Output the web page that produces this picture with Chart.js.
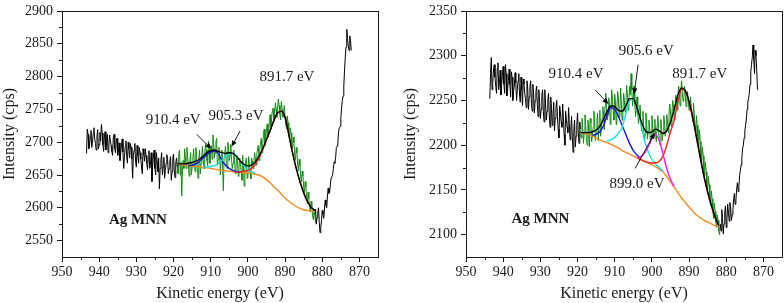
<!DOCTYPE html>
<html><head><meta charset="utf-8">
<script src="https://cdn.jsdelivr.net/npm/chart.js@4.4.0/dist/chart.umd.min.js"></script>
<style>
html,body{margin:0;padding:0;background:#fff;width:784px;height:303px;overflow:hidden}
canvas{position:absolute;top:0}
#c1{left:0}#c2{left:392px}
</style></head><body>
<canvas id="c1" width="392" height="303"></canvas>
<canvas id="c2" width="392" height="303"></canvas>
<script>
// ---------- axis ticks ----------
const xTicks = [950,940,930,920,910,900,890,880,870];
const xMinorTicks = [945,935,925,915,905,895,885,875];
const leftYTicks = [2550,2600,2650,2700,2750,2800,2850,2900];
const leftYMinor = [2575,2625,2675,2725,2775,2825,2875];
const rightYTicks = [2100,2150,2200,2250,2300,2350];
const rightYMinor = [2125,2175,2225,2275,2325];

// ---------- raw spectra (sampled every 0.2 eV, descending energy) ----------
const rawStep = 0.2;
const leftRawBlackAStart = 943.4;
const leftRawBlackA = [2683,2720,2712,2690,2695,2708,2718,2692,2700,2714,
 2722,2705,2698,2688,2710,2719,2690,2696,2715,2702,
 2727,2714,2696,2686,2708,2716,2688,2700,2712,2684,
 2694,2711,2703,2695,2686,2680,2707,2712,2690,2684,
 2701,2706,2680,2688,2699,2672,2684,2696,2705,2685,
 2660,2678,2693,2702,2679,2668,2700,2690,2676,2698,
 2692,2674,2645,2680,2688,2698,2670,2662,2695,2680,
 2668,2692,2684,2674,2662,2652,2690,2682,2671,2690,
 2680,2668,2658,2676,2687,2660,2666,2684,2640,2664,
 2679,2688,2660,2650,2684,2670,2655,2676,2629,2660,
 2672,2684,2650,2662,2677,2645,2657,2668,2681,2674,
 2652,2660,2670,2678,2642,2655,2675,2682,2656,2646,
 2668,2676,2663];
const leftRawGreenStart = 919.0;
const leftRawGreen = [2665,2652,2680,2688,2650,2670,2618,2655,2672,2660,
 2690,2676,2660,2692,2678,2664,2648,2670,2684,2650,
 2662,2674,2690,2668,2655,2692,2680,2660,2645,2672,
 2688,2652,2667,2680,2694,2674,2660,2682,2698,2688,
 2672,2664,2702,2690,2668,2680,2695,2674,2711,2698,
 2676,2684,2700,2706,2665,2674,2692,2684,2650,2672,
 2688,2665,2626,2676,2684,2694,2668,2660,2700,2690,
 2672,2680,2696,2674,2660,2668,2688,2676,2652,2664,
 2680,2672,2648,2662,2676,2668,2655,2642,2680,2664,
 2633,2658,2670,2676,2645,2650,2678,2668,2652,2644,
 2676,2672,2660,2668,2684,2676,2665,2682,2690,2695,
 2672,2688,2700,2706,2684,2698,2712,2720,2695,2704,
 2718,2728,2708,2716,2735,2742,2720,2738,2748,2752,
 2732,2744,2760,2750,2738,2752,2766,2756,2742,2734,
 2762,2750,2738,2744,2756,2738,2728,2720,2740,2730,
 2712,2704,2722,2714,2698,2690,2708,2700,2680,2672,
 2692,2684,2665,2656,2674,2664,2648,2640,2656,2648,
 2632,2622,2640,2632,2616,2606,2624,2614,2600,2594,
 2610,2602,2588,2582,2598,2590,2578];
const leftRawBlackBStart = 881.8;
const leftRawBlackB = [2598,2575,2585,2594,2600,2578,2562,2570,2580,2596,
 2590,2584,2598,2612,2604,2600,2618,2630,2622,2624,
 2636,2646,2648,2650,2660,2670,2668,2676,2692,2694,
 2700,2716,2722,2724,2736,2752,2764,2770,2786,2810,
 2830,2845,2872,2858,2846,2840,2862,2855,2840];

const rightRawBlackAStart = 943.6;
const rightRawBlackA = [2252,2280,2298,2262,2270,2284,2290,2276,2266,2258,
 2286,2292,2262,2270,2284,2256,2268,2278,2288,2268,
 2258,2290,2280,2255,2263,2272,2285,2268,2254,2282,
 2276,2250,2260,2266,2281,2270,2250,2262,2272,2280,
 2256,2248,2276,2262,2244,2274,2268,2258,2252,2242,
 2272,2264,2240,2254,2265,2272,2247,2238,2268,2256,
 2236,2250,2260,2266,2244,2232,2262,2248,2230,2240,
 2256,2262,2238,2226,2262,2246,2228,2238,2250,2258,
 2234,2220,2254,2240,2222,2234,2248,2216,2230,2242,
 2250,2232,2218,2208,2244,2236,2226,2220,2246,2230,
 2212,2200,2238,2228,2220,2214,2242,2224,2206,2218,
 2232,2208,2192,2216,2228,2198,2210,2222,2236,2214,
 2202,2226,2218];
const rightRawGreenStart = 919.2;
const rightRawGreen = [2216,2208,2230,2220,2202,2214,2234,2222,2206,2200,
 2228,2216,2198,2230,2225,2204,2211,2220,2238,2226,
 2205,2214,2228,2236,2205,2222,2239,2210,2218,2230,
 2243,2236,2217,2244,2258,2240,2228,2234,2253,2246,
 2223,2236,2262,2250,2238,2228,2257,2248,2223,2242,
 2260,2252,2231,2240,2264,2246,2228,2236,2258,2250,
 2237,2246,2267,2258,2239,2248,2266,2256,2280,2262,
 2244,2252,2266,2246,2232,2240,2254,2236,2224,2230,
 2245,2228,2216,2224,2238,2218,2204,2212,2236,2224,
 2207,2216,2228,2220,2202,2208,2233,2222,2210,2216,
 2229,2212,2204,2222,2233,2216,2206,2200,2229,2220,
 2205,2214,2233,2226,2210,2218,2234,2226,2214,2232,
 2246,2238,2221,2236,2250,2244,2228,2240,2256,2252,
 2239,2256,2266,2258,2244,2262,2272,2258,2249,2254,
 2266,2256,2243,2250,2260,2248,2239,2244,2254,2242,
 2233,2226,2247,2236,2222,2214,2233,2222,2206,2196,
 2217,2204,2187,2180,2198,2188,2172,2166,2181,2170,
 2154,2148,2165,2156,2143,2132,2149,2140,2126,2118,
 2135,2126,2114,2108,2122,2116,2104,2100,2110];
const rightRawBlackBStart = 881.6;
const rightRawBlackB = [2112,2104,2128,2118,2101,2112,2126,2132,2108,2118,
 2134,2124,2115,2136,2130,2116,2122,2128,2140,2146,
 2134,2138,2150,2158,2148,2154,2166,2172,2178,2186,
 2196,2200,2208,2216,2222,2228,2240,2248,2252,2258,
 2268,2282,2290,2298,2312,2296,2280,2306,2300,2284,
 2262];

// ---------- fitted curves ----------
const fitEnergies = [919,918,917,916,915,914,913,912,911,910,909,908,907,906,905,904,903,902,901,900,
 899,898,897,896,895,894,893,892,891,890,889,888,887,886,885,884,883,882];
const leftEnvelope = [2667,2667,2667,2668,2669,2671,2674,2679,2684,2687,2688,2686,2684,2683,2684,2683,2678,2671,2666,2664,
 2665,2670,2679,2690,2704,2718,2733,2745,2747,2738,2712,2684,2660,2640,2623,2610,2601,2596];
const leftBackground = [2667,2666,2665,2664,2664,2663,2662,2661,2661,2660,2659,2658,2657,2656,2656,2655,2654,2654,2653,2653,
 2652,2651,2650,2647,2643,2638,2632,2627,2621,2615,2610,2606,2602,2599,2597,2596,2595,2594];
const leftBlueE = [916,915,914,913,912,911,910,909,908,907,906,905,904,903,902];
const leftBlue = [2664,2665,2667,2671,2676,2681,2685,2686,2683,2672,2665,2660,2657,2655,2654];
const leftCyanE = [912,911,910,909,908,907,906,905,904,903,902,901,900,899,898];
const leftCyan = [2662,2662,2663,2664,2667,2672,2678,2682,2682,2678,2671,2664,2658,2655,2652];
const leftRedE = [903,902,901,900,899,898,897,896,895,894,893,892,891,890,889,888,887,886,885,884,883,882];
const leftRed = [2655,2655,2656,2657,2660,2666,2676,2689,2704,2718,2733,2745,2747,2738,2712,2684,2660,2640,2623,2610,2601,2596];

const rightEnvelope = [2214,2214,2214,2215,2217,2221,2229,2238,2244,2243,2239,2238,2244,2252,2252,2242,2228,2218,2214,2215,
 2218,2216,2213,2216,2226,2240,2256,2264,2261,2249,2231,2209,2187,2166,2148,2133,2120,2110];
const rightBackground = [2214,2213,2212,2210,2208,2206,2204,2203,2201,2199,2197,2194,2192,2190,2188,2186,2184,2182,2180,2178,
 2176,2173,2170,2165,2159,2153,2147,2141,2136,2131,2126,2122,2119,2116,2114,2112,2110,2109];
const rightBlueE = [916,915,914,913,912,911,910,909,908,907,906,905,904,903];
const rightBlue = [2211,2212,2215,2222,2234,2242,2240,2232,2222,2212,2202,2194,2189,2185];
const rightCyanE = [912,911,910,909,908,907,906,905,904,903,902,901,900,899,898,897];
const rightCyan = [2205,2206,2209,2213,2220,2235,2250,2252,2243,2226,2206,2193,2184,2179,2175,2171];
const rightMagentaE = [904,903,902,901,900,899,898,897,896,895,894];
const rightMagenta = [2186,2187,2191,2198,2207,2212,2205,2190,2174,2162,2154];
const rightRedE = [904,903,902,901,900,899,898,897,896,895,894,893,892,891,890,889,888,887,886,885,884,883,882];
const rightRed = [2186,2184,2182,2181,2180,2180,2182,2188,2200,2215,2228,2248,2263,2260,2248,2230,2208,2186,2165,2147,2132,2119,2110];

// ---------- annotations (energy, intensity anchors) ----------
const leftLabels = [
  {text:'891.7 eV', e:889.5, v:2800},
  {text:'910.4 eV', e:920.1, v:2733},
  {text:'905.3 eV', e:903.2, v:2740},
  {text:'Ag MNN', e:929.6, v:2581, bold:true}
];
const leftArrows = [
  {e1:913.8, v1:2712, e2:909.8, v2:2690},
  {e1:902.1, v1:2717, e2:904.4, v2:2693}
];
const rightLabels = [
  {text:'910.4 eV', e:920.4, v:2279},
  {text:'905.6 eV', e:901.5, v:2305},
  {text:'891.7 eV', e:887.1, v:2279},
  {text:'899.0 eV', e:904.0, v:2156},
  {text:'Ag MNN', e:930.0, v:2117, bold:true}
];
const rightArrows = [
  {e1:915.3, v1:2262, e2:911.7, v2:2246},
  {e1:903.7, v1:2290, e2:904.8, v2:2257},
  {e1:904.5, v1:2174, e2:899.2, v2:2214}
];

// ---------- helpers ----------
const FONT = "'Liberation Serif','Times New Roman',serif";
const INK = '#1a1a1a';
function rawPts(start, vals){ return vals.map((v,i)=>({x:+(start - i*rawStep).toFixed(2), y:v})); }
function pts(es, vals){ return es.map((e,i)=>({x:e, y:vals[i]})); }
function raw(data, color){ return {data, borderColor:color, borderWidth:1, pointRadius:0, tension:0}; }
function fit(data, color, w){ return {data, borderColor:color, borderWidth:w||1.4, pointRadius:0, cubicInterpolationMode:'monotone'}; }

const decoPlugin = {
  id:'deco',
  afterDraw(chart, args, o){
    const {ctx, chartArea:a, scales:{x, y}} = chart;
    ctx.save();
    ctx.strokeStyle = INK; ctx.lineWidth = 1;
    ctx.strokeRect(a.left + 0.5, a.top + 0.5, a.right - a.left, a.bottom - a.top);
    ctx.beginPath();
    o.xMinor.forEach(v=>{ const px = Math.round(x.getPixelForValue(v)) + 0.5; ctx.moveTo(px, a.bottom); ctx.lineTo(px, a.bottom + 3); });
    o.yMinor.forEach(v=>{ const py = Math.round(y.getPixelForValue(v)) + 0.5; ctx.moveTo(a.left, py); ctx.lineTo(a.left - 3, py); });
    ctx.stroke();
    ctx.fillStyle = INK; ctx.textAlign = 'center'; ctx.textBaseline = 'middle';
    o.labels.forEach(l=>{
      ctx.font = (l.bold ? 'bold ' : '') + '15px ' + FONT;
      ctx.fillText(l.text, x.getPixelForValue(l.e), y.getPixelForValue(l.v));
    });
    ctx.strokeStyle = '#000'; ctx.fillStyle = '#000'; ctx.lineWidth = 0.9;
    o.arrows.forEach(ar=>{
      const x1 = x.getPixelForValue(ar.e1), y1 = y.getPixelForValue(ar.v1);
      const x2 = x.getPixelForValue(ar.e2), y2 = y.getPixelForValue(ar.v2);
      const ang = Math.atan2(y2 - y1, x2 - x1), L = 6, W = 2.6;
      const bx = x2 - L*Math.cos(ang), by = y2 - L*Math.sin(ang);
      ctx.beginPath(); ctx.moveTo(x1, y1); ctx.lineTo(bx, by); ctx.stroke();
      ctx.beginPath(); ctx.moveTo(x2, y2);
      ctx.lineTo(bx + W*Math.sin(ang), by - W*Math.cos(ang));
      ctx.lineTo(bx - W*Math.sin(ang), by + W*Math.cos(ang));
      ctx.closePath(); ctx.fill();
    });
    ctx.restore();
  }
};

function makeChart(id, p){
  return new Chart(document.getElementById(id), {
    type:'line',
    data:{ datasets:p.datasets },
    plugins:[decoPlugin],
    options:{
      responsive:false, animation:false, devicePixelRatio:1,
      layout:{ padding:{ left:p.padLeft, right:p.padRight, top:7, bottom:0 } },
      parsing:false, normalized:true,
      plugins:{ legend:{display:false}, tooltip:{enabled:false},
        deco:{ xMinor:xMinorTicks, yMinor:p.yMinor, labels:p.labels, arrows:p.arrows } },
      scales:{
        x:{ type:'linear', reverse:true, min:865, max:950,
          afterBuildTicks:s=>{ s.ticks = xTicks.map(v=>({value:v})); },
          afterFit:s=>{ s.height = 46; },
          grid:{ drawOnChartArea:false, drawTicks:true, tickLength:5, tickColor:INK, color:INK },
          border:{ display:false },
          ticks:{ font:{family:FONT, size:14, lineHeight:1.1}, color:INK, padding:3, maxRotation:0, autoSkip:false, callback:v=>String(v) },
          title:{ display:true, text:'Kinetic energy (eV)', font:{family:FONT, size:16}, color:INK, padding:0 } },
        y:{ type:'linear', min:p.yMin, max:p.yMax,
          afterBuildTicks:s=>{ s.ticks = p.yTicks.map(v=>({value:v})); },
          afterFit:s=>{ s.width = p.yWidth; },
          grid:{ drawOnChartArea:false, drawTicks:true, tickLength:5, tickColor:INK, color:INK },
          border:{ display:false },
          ticks:{ font:{family:FONT, size:14, lineHeight:1}, color:INK, padding:4, autoSkip:false, callback:v=>String(v) },
          title:{ display:true, text:'Intensity (cps)', font:{family:FONT, size:16}, color:INK, padding:0 } }
      }
    }
  });
}

const GREEN = '#138a13', ORANGE = '#f08c1e', BLUE = '#1414d2', CYAN = '#12e0e6', RED = '#e8261c', MAGENTA = '#f01ef0';

makeChart('c1', {
  padLeft:0, padRight:14, yWidth:62, yMin:2525, yMax:2900,
  yTicks:leftYTicks, yMinor:leftYMinor, labels:leftLabels, arrows:leftArrows,
  datasets:[
    fit(pts(fitEnergies, leftEnvelope), '#000', 1.4),
    fit(pts(leftRedE, leftRed), RED),
    fit(pts(leftCyanE, leftCyan), CYAN),
    fit(pts(leftBlueE, leftBlue), BLUE),
    fit(pts(fitEnergies, leftBackground), ORANGE),
    raw(rawPts(leftRawBlackAStart, leftRawBlackA), '#000'),
    raw(rawPts(leftRawBlackBStart, leftRawBlackB), '#000'),
    raw(rawPts(leftRawGreenStart, leftRawGreen), GREEN)
  ]
});

makeChart('c2', {
  padLeft:9, padRight:2, yWidth:65, yMin:2075, yMax:2350,
  yTicks:rightYTicks, yMinor:rightYMinor, labels:rightLabels, arrows:rightArrows,
  datasets:[
    fit(pts(fitEnergies, rightEnvelope), '#000', 1.4),
    fit(pts(rightMagentaE, rightMagenta), MAGENTA),
    fit(pts(rightRedE, rightRed), RED),
    fit(pts(rightCyanE, rightCyan), CYAN),
    fit(pts(rightBlueE, rightBlue), BLUE),
    fit(pts(fitEnergies, rightBackground), ORANGE),
    raw(rawPts(rightRawBlackAStart, rightRawBlackA), '#000'),
    raw(rawPts(rightRawBlackBStart, rightRawBlackB), '#000'),
    raw(rawPts(rightRawGreenStart, rightRawGreen), GREEN)
  ]
});
</script>
</body></html>
